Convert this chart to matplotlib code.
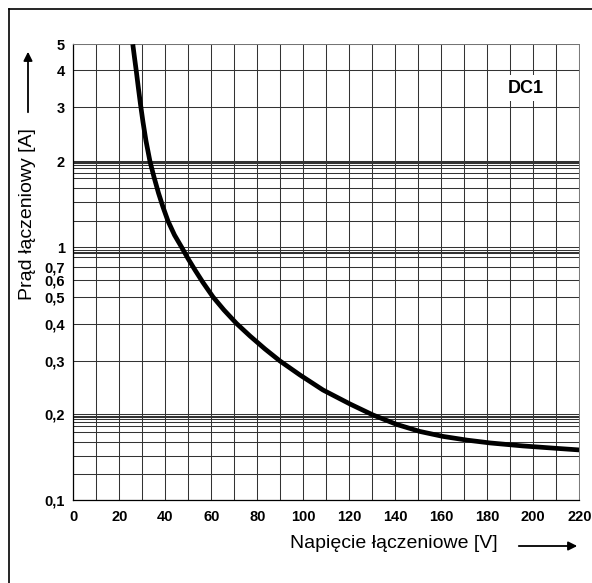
import numpy as np
import matplotlib
matplotlib.use("Agg")
import matplotlib.pyplot as plt
from matplotlib.lines import Line2D

plt.rcParams['font.family'] = ['Liberation Sans', 'DejaVu Sans']

# curve DC1: switching voltage [V] vs switching current [A]
voltage = [25.87, 26.61, 27.39, 28.30, 29.26, 30.30, 31.61, 33.35, 35.09, 37.04,
           39.0, 41.17, 44.0, 47.13, 49.87, 52.91, 56.39, 60.74, 65.52, 70.96,
           76.83, 83.35, 89.87, 98.57, 108.57, 120.3, 130.3, 140.7, 150.7, 160.7,
           171.2, 181.2, 195.5, 209.9, 220.0]
current = [5.0, 4.459, 3.969, 3.482, 3.053, 2.687, 2.330, 1.98, 1.4227, 1.2641,
           1.1712, 1.0988, 1.045, 1.0, 0.7819, 0.6774, 0.5843, 0.502, 0.45, 0.4027,
           0.3649, 0.3296, 0.30, 0.2698, 0.2408, 0.2166, 0.1958, 0.1535, 0.1412, 0.1358,
           0.1321, 0.1295, 0.1272, 0.1254, 0.1242]

x_major = list(range(0, 221, 20))
x_minor = list(range(10, 220, 20))

y_major = [0.1, 0.2, 0.3, 0.4, 0.5, 0.6, 0.7, 1, 2, 3, 4, 5]
y_major_labels = ['0,1', '0,2', '0,3', '0,4', '0,5', '0,6', '0,7', '1', '2', '3', '4', '5']
y_minor = [0.11, 0.12, 0.13, 0.14, 0.15, 0.16, 0.17, 0.18, 0.19,
           0.8, 0.85, 0.9, 0.95,
           1.1, 1.2, 1.3, 1.4, 1.5, 1.6, 1.7, 1.8, 1.9]

# the printed "log" paper is hand drawn, so the y axis is mapped piecewise
scale_vals = [0.1, 0.11, 0.12, 0.13, 0.14, 0.15, 0.16, 0.17, 0.18, 0.19, 0.2,
              0.3, 0.4, 0.5, 0.6, 0.7, 0.8, 0.85, 0.9, 0.95, 1,
              1.1, 1.2, 1.3, 1.4, 1.5, 1.6, 1.7, 1.8, 1.9, 2, 3, 4, 5]
scale_frac = [0.0, 0.0571, 0.0972, 0.1266, 0.1486, 0.1630, 0.1705, 0.1771, 0.1815, 0.1850, 0.1876,
              0.3050, 0.3856, 0.4448, 0.4828, 0.5106, 0.5339, 0.5414, 0.5449, 0.5486, 0.5545,
              0.6129, 0.6546, 0.6840, 0.7059, 0.7182, 0.7286, 0.7345, 0.7389, 0.7411, 0.7433,
              0.8618, 0.9436, 1.0]
log_vals = np.log10(scale_vals)


def fwd(v):
    v = np.clip(np.asarray(v, dtype=float), 1e-6, None)
    return np.interp(np.log10(v), log_vals, scale_frac)


def inv(f):
    return 10 ** np.interp(np.asarray(f, dtype=float), scale_frac, log_vals)


fig = plt.figure(figsize=(5.92, 5.83), dpi=100)
ax = fig.add_axes([0.1238, 0.1424, 0.8547, 0.7816])
ax.set_yscale('function', functions=(fwd, inv))
ax.set_xlim(0, 220)
ax.set_ylim(0.1, 5)

ax.set_xticks(x_major)
ax.set_xticks(x_minor, minor=True)
ax.set_yticks(y_major)
ax.set_yticklabels(y_major_labels)
ax.set_yticks(y_minor, minor=True)
ax.yaxis.set_minor_formatter(matplotlib.ticker.NullFormatter())
ax.tick_params(which='both', length=0, labelsize=10.5)
ax.tick_params(axis='y', pad=6)
ax.tick_params(axis='x', pad=7)
for lab in ax.get_xticklabels() + ax.get_yticklabels():
    lab.set_fontweight('bold')

ax.grid(True, which='both', color='#333333', linewidth=0.75)
for side in ['top', 'right']:
    ax.spines[side].set_color('#777777')
    ax.spines[side].set_linewidth(0.7)
for side in ['left', 'bottom']:
    ax.spines[side].set_linewidth(0.9)

ax.plot(voltage, current, color='black', linewidth=3.4, solid_joinstyle='round',
        solid_capstyle='butt', zorder=3)

ax.text(0.895, 0.904, 'DC1', transform=ax.transAxes, ha='center', va='center',
        fontsize=13, fontweight='bold', zorder=4,
        bbox=dict(facecolor='white', edgecolor='none', pad=3))

W, H = 592, 583
fig.text(28 / W, 1 - 214 / H, 'Prąd łączeniowy [A]', rotation=90,
         ha='center', va='center', fontsize=14)
fig.text(290 / W, 1 - 543 / H, 'Napięcie łączeniowe [V]',
         ha='left', va='center', fontsize=14)

# arrows beside the axis titles
fig.add_artist(matplotlib.patches.FancyArrowPatch(
    (28 / W, 1 - 115 / H), (28 / W, 1 - 49 / H), transform=fig.transFigure,
    arrowstyle='-|>', mutation_scale=13, color='black', linewidth=1.3))
fig.add_artist(matplotlib.patches.FancyArrowPatch(
    (516 / W, 1 - 546 / H), (580 / W, 1 - 546 / H), transform=fig.transFigure,
    arrowstyle='-|>', mutation_scale=13, color='black', linewidth=1.3))

# outer frame (left and top edges visible)
fig.add_artist(Line2D([8.5 / W, 8.5 / W], [0, 1 - 9.3 / H], transform=fig.transFigure,
                      color='black', linewidth=1.2))
fig.add_artist(Line2D([8.5 / W, 1], [1 - 9.3 / H, 1 - 9.3 / H], transform=fig.transFigure,
                      color='black', linewidth=1.2))

fig.savefig('out.png', dpi=100)
